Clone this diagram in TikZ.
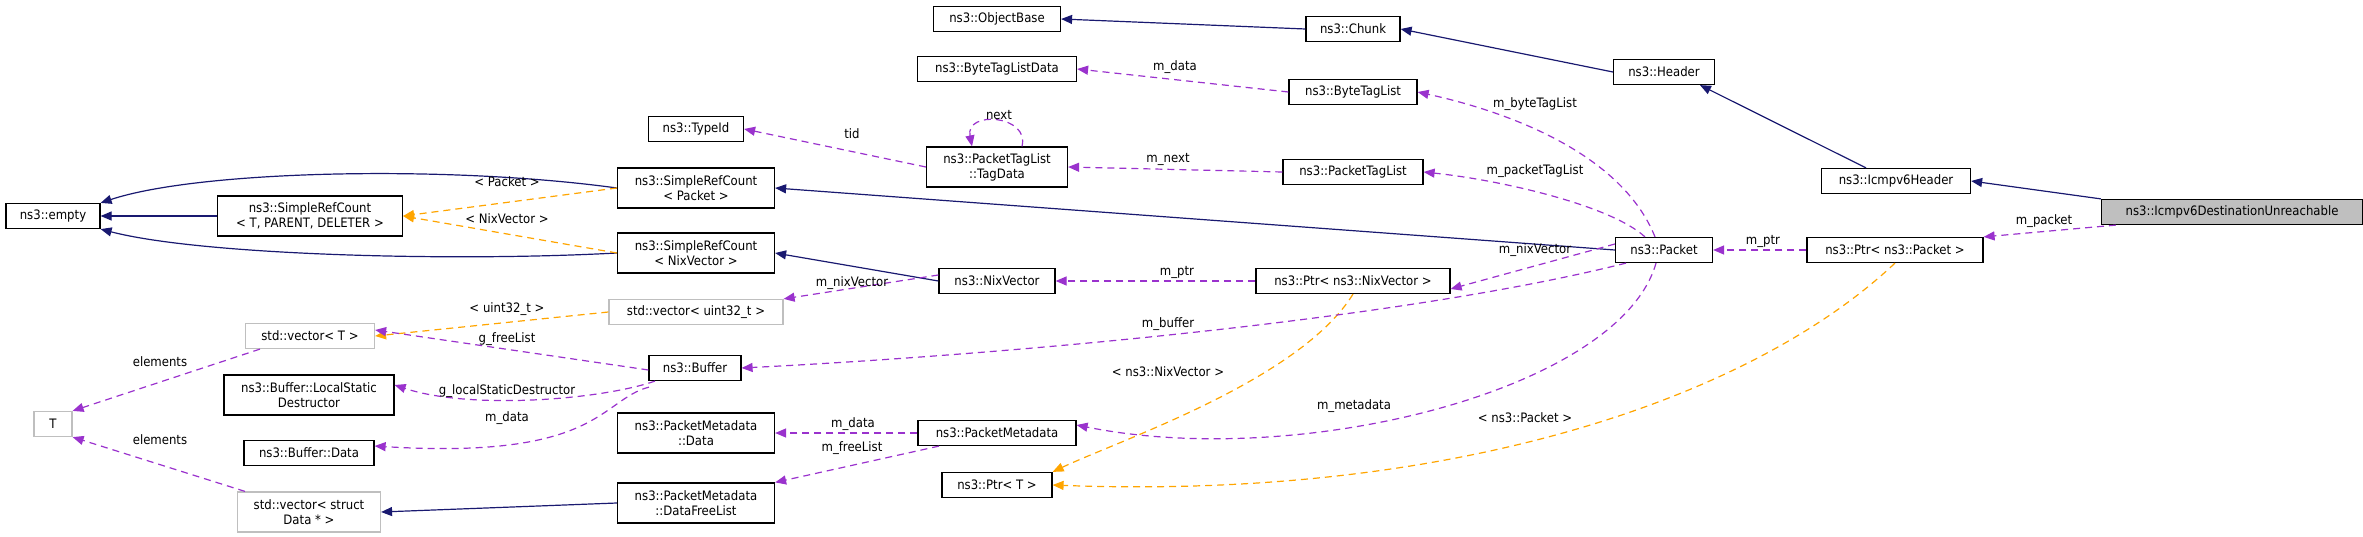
\documentclass[tikz,border=0pt]{standalone}
\usepackage{fontspec}
\setmainfont{DejaVu Sans}[FakeStretch=0.9]
\usetikzlibrary{arrows.meta}
\definecolor{inh}{HTML}{191970}
\definecolor{use}{HTML}{9A32CD}
\definecolor{tpl}{HTML}{FFA500}
\definecolor{gry}{HTML}{BFBFBF}
\begin{document}
\begin{tikzpicture}[x=1pt,y=-1pt,
  box/.style={draw=black,line width=1.2pt,minimum height=25pt,inner sep=0pt,align=center,font=\fontsize{13}{15}\selectfont},
  box2/.style={box,minimum height=40pt},
  gbox/.style={box,draw=gry},
  lbl/.style={font=\fontsize{13}{15}\selectfont,inner sep=1pt},
  tip/.style={-{Triangle[length=11pt,width=9pt]}},
  ih/.style={tip,draw=inh,line width=1.2pt},
  us/.style={tip,draw=use,line width=1.2pt,dash pattern=on 7pt off 5pt},
  tp/.style={tip,draw=tpl,line width=1.2pt,dash pattern=on 7pt off 5pt}]
\useasboundingbox (0,0) rectangle (2363,537);
% nodes
\node[box,minimum width=94pt] (empty) at (53,216) {ns3::empty};
\node[box2,minimum width=185pt] (srct) at (310,216) {ns3::SimpleRefCount\\< T, PARENT, DELETER >};
\node[box2,minimum width=157pt] (srcp) at (696,188) {ns3::SimpleRefCount\\< Packet >};
\node[box2,minimum width=157pt] (srcn) at (696,253) {ns3::SimpleRefCount\\< NixVector >};
\node[box,minimum width=95pt] (typeid) at (696,129) {ns3::TypeId};
\node[gbox,minimum width=174pt] (vu32) at (696,312) {std::vector< uint32\_t >};
\node[gbox,minimum width=129pt] (vt) at (310,336) {std::vector< T >};
\node[box,minimum width=92pt] (buffer) at (695,368) {ns3::Buffer};
\node[box2,minimum width=170pt] (lsd) at (309,395) {ns3::Buffer::LocalStatic\\Destructor};
\node[box,minimum width=130pt] (bdata) at (309,453) {ns3::Buffer::Data};
\node[box2,minimum width=157pt] (pmdata) at (696,433) {ns3::PacketMetadata\\::Data};
\node[box2,minimum width=157pt] (dfl) at (696,503) {ns3::PacketMetadata\\::DataFreeList};
\node[gbox,minimum height=40pt,minimum width=143pt] (vsd) at (309,512) {std::vector< struct\\Data * >};
\node[gbox,minimum width=38pt] (T) at (53,424) {T};
\node[box,minimum width=127pt] (objb) at (997,19) {ns3::ObjectBase};
\node[box,minimum width=94pt] (chunk) at (1353,29) {ns3::Chunk};
\node[box,minimum width=159pt] (btld) at (997,69) {ns3::ByteTagListData};
\node[box,minimum width=128pt] (btl) at (1353,92) {ns3::ByteTagList};
\node[box2,minimum width=141pt] (tagdata) at (997,167) {ns3::PacketTagList\\::TagData};
\node[box,minimum width=140pt] (ptl) at (1353,172) {ns3::PacketTagList};
\node[box,minimum width=116pt] (nixv) at (997,281) {ns3::NixVector};
\node[box,minimum width=194pt] (ptrnix) at (1353,281) {ns3::Ptr< ns3::NixVector >};
\node[box,minimum width=158pt] (pm) at (997,433) {ns3::PacketMetadata};
\node[box,minimum width=110pt] (ptrt) at (997,485) {ns3::Ptr< T >};
\node[box,minimum width=101pt] (header) at (1664,72) {ns3::Header};
\node[box,minimum width=149pt] (icmp) at (1896,181) {ns3::Icmpv6Header};
\node[box,minimum width=261pt,fill=gry] (du) at (2232,212) {ns3::Icmpv6DestinationUnreachable};
\node[box,minimum width=97pt] (packet) at (1664,250) {ns3::Packet};
\node[box,minimum width=176pt] (ptrp) at (1895,250) {ns3::Ptr< ns3::Packet >};
% inheritance
\draw[ih] (chunk.west) -- (objb.east);
\draw[ih] (header.west) -- (chunk.east);
\draw[ih] ([xshift=-30pt]icmp.north) -- ([xshift=36pt]header.south);
\draw[ih] (du.north west) -- (icmp.east);
\draw[ih] (srcp.west) .. controls (450,165) and (200,170) .. (empty.north east);
\draw[ih] (srct.west) -- (empty.east);
\draw[ih] (srcn.west) .. controls (450,262) and (200,255) .. (empty.south east);
\draw[ih] (packet.west) -- (srcp.east);
\draw[ih] (nixv.west) -- (srcn.east);
\draw[ih] (dfl.west) -- (vsd.east);
% template
\draw[tp] (srcp.west) -- (srct.east);
\node[lbl] (lpk) at (507,182) {< Packet >};
\draw[tp] (srcn.west) -- (srct.east);
\node[lbl] (lnvc) at (507,219) {< NixVector >};
\draw[tp] (vu32.west) -- (vt.east);
\node[lbl] (lu32) at (507,309) {< uint32\_t >};
\draw[tp] (ptrnix.south) .. controls (1300,380) and (1120,440) .. (ptrt.north east);
\node[lbl] (lnv) at (1168,372) {< ns3::NixVector >};
\draw[tp] (ptrp.south) .. controls (1750,400) and (1450,500) .. (ptrt.east);
\node[lbl] (lnp) at (1525,418) {< ns3::Packet >};
% usage
\draw[us] (btl.west) -- (btld.east);
\node[lbl] (lmd1) at (1175,67) {m\_data};
\draw[us] (tagdata.west) -- (typeid.east);
\node[lbl] (ltid) at (852,134) {tid};
\draw[us] ([xshift=25pt]tagdata.north) .. controls (1030,115) and (965,110) .. ([xshift=-25pt]tagdata.north);
\node[lbl] (lnext) at (999,115) {next};
\draw[us] (ptl.west) -- (tagdata.east);
\node[lbl] (lmn) at (1168,159) {m\_next};
\draw[us] ([xshift=-9pt]packet.north) .. controls (1620,150) and (1500,110) .. (btl.east);
\node[lbl] (lbtl) at (1535,104) {m\_byteTagList};
\draw[us] ([xshift=-19pt]packet.north) .. controls (1610,205) and (1500,180) .. (ptl.east);
\node[lbl] (lptl) at (1535,171) {m\_packetTagList};
\draw[us] ([yshift=6pt]packet.west) -- ([yshift=-8pt]ptrnix.east);
\node[lbl] (lnix) at (1535,250) {m\_nixVector};
\draw[us] (ptrnix.west) -- (nixv.east);
\node[lbl] (lptr1) at (1177,272) {m\_ptr};
\draw[us] ([yshift=6pt]nixv.west) -- (vu32.north east);
\node[lbl] (lnix2) at (852,283) {m\_nixVector};
\draw[us] ([xshift=-38pt]packet.south) .. controls (1400,320) and (1000,355) .. (buffer.east);
\node[lbl] (lbuf) at (1168,324) {m\_buffer};
\draw[us] ([yshift=-2pt]buffer.west) -- ([yshift=6pt]vt.east);
\node[lbl] (lfl) at (507,339) {g\_freeList};
\draw[us] ([xshift=-40pt]buffer.south) .. controls (600,400) and (470,410) .. ([yshift=10pt]lsd.east);
\node[lbl] (lgl) at (507,391) {g\_localStaticDestructor};
\draw[us] ([xshift=-46pt,yshift=-6pt]buffer.south) .. controls (600,400) and (600,460) .. ([yshift=7pt]bdata.east);
\node[lbl] (lbd) at (507,418) {m\_data};
\draw[us] ([xshift=-50pt]vt.south) -- (T.north east);
\node[lbl] (lel1) at (160,362) {elements};
\draw[us] ([xshift=-64pt]vsd.north) -- (T.south east);
\node[lbl] (lel2) at (160,440) {elements};
\draw[us] (pm.west) -- (pmdata.east);
\node[lbl] (lmd2) at (853,424) {m\_data};
\draw[us] ([xshift=-58pt]pm.south) -- (dfl.north east);
\node[lbl] (lmfl) at (852,448) {m\_freeList};
\draw[us] ([xshift=-8pt]packet.south) .. controls (1620,390) and (1300,470) .. ([yshift=8pt]pm.east);
\node[lbl] (lmd) at (1354,406) {m\_metadata};
\draw[us] (ptrp.west) -- (packet.east);
\node[lbl] (lptr2) at (1763,241) {m\_ptr};
\draw[us] ([xshift=15pt]du.south west) -- (ptrp.north east);
\node[lbl] (lmp) at (2044,221) {m\_packet};
\end{tikzpicture}
\end{document}
